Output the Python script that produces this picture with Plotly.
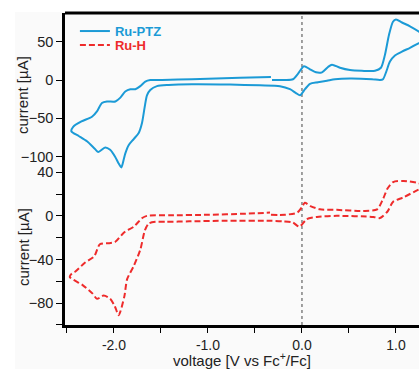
import plotly.graph_objects as go

# ---------------- data ----------------
ptz_v = [-0.319, -0.181, -0.096, -0.043, 0.021, 0.085, 0.149, 0.213, 0.277, 0.319, 0.404, 0.511,
         0.638, 0.777, 0.840, 0.883, 0.926, 0.968, 1.000, 1.064, 1.149, 1.245, 1.34,
         1.245, 1.149, 1.064, 0.989, 0.936, 0.894, 0.862, 0.830, 0.745, 0.511, 0.351, 0.266,
         0.170, 0.085, 0.032, -0.021, -0.064, -0.128, -0.234, -0.447, -0.766, -1.170, -1.418,
         -1.543, -1.614, -1.649, -1.673, -1.702, -1.737, -1.790, -1.844, -1.880, -1.897, -1.922,
         -1.950, -1.988, -2.041, -2.094, -2.166, -2.202, -2.287, -2.375, -2.453,
         -2.434, -2.346, -2.234, -2.181, -2.128, -2.074, -1.985, -1.932, -1.880, -1.826,
         -1.773, -1.720, -1.667, -1.614, -1.489, -1.170, -0.660, -0.330]
ptz_i = [0, 0, 1, 8, 18, 14, 10, 10, 17, 20, 16, 13,
         12, 12, 16, 33, 59, 76, 79, 75, 70, 63, 55,
         48, 42, 37, 32, 24, 10, 1, 0, 1, 2, 1, -1,
         -3, -5, -12, -20, -17, -12, -8, -7, -6, -5.6, -6.5,
         -8, -13, -20, -35, -56, -69, -77, -85, -96, -104, -114,
         -109, -100, -91, -88, -94, -90, -80, -73, -67,
         -61, -54, -48, -41, -30, -28, -28, -23, -15, -12,
         -12, -8, -2, 0, 0, 1, 3, 4]

h_v = [-0.33, -0.18, -0.05, 0.00, 0.03, 0.09, 0.19, 0.37, 0.65, 0.80, 0.86, 0.91, 0.97,
       1.08, 1.24, 1.33,
       1.24, 1.08, 0.97, 0.91, 0.83, 0.76, 0.37, 0.16, 0.05, 0.00, -0.03, -0.10, -0.20,
       -0.34, -0.80, -1.20, -1.45, -1.56, -1.63, -1.67, -1.72, -1.79, -1.86, -1.89, -1.95,
       -1.99, -2.04, -2.11, -2.18, -2.23, -2.34, -2.47,
       -2.45, -2.41, -2.31, -2.21, -2.15, -2.05, -1.99, -1.89, -1.79, -1.70, -1.65,
       -1.40, -1.00, -0.60, -0.34]
h_i = [1, 1, 3, 8, 12, 9, 6, 5.5, 4.5, 6, 15, 25, 31,
       32, 30, 27,
       24, 17, 13, 4, -2, -1, 0, -1, -3, -8, -10, -6, -5,
       -4.5, -4.5, -5, -5.5, -5.5, -7, -13, -31, -46, -58, -74, -91,
       -83, -76, -73, -76, -71, -63, -56,
       -53, -51, -43, -37, -26, -25, -24, -15, -10, -2, 0,
       0.5, 1, 2, 3]

x_tickvals = [-2.0, -1.0, 0.0, 1.0]
x_ticktext = ["-2.0", "-1.0", "0.0", "1.0"]
top_tickvals = [50, 0, -50, -100]
bot_tickvals = [40, 0, -40, -80]

BLUE = "#1b9ad6"
RED = "#ee2b2b"
FONT = "Liberation Sans, Arial, sans-serif"

fig = go.Figure()
fig.add_trace(go.Scatter(x=ptz_v, y=ptz_i, mode="lines", name="<b>Ru-PTZ</b>",
                         line=dict(color=BLUE, width=2, shape="spline", smoothing=0.7),
                         xaxis="x", yaxis="y2", legend="legend2", showlegend=True))
fig.add_trace(go.Scatter(x=h_v, y=h_i, mode="lines", name="<b>Ru-H</b>",
                         line=dict(color=RED, width=2, dash="6px,3px", shape="spline", smoothing=0.7),
                         xaxis="x", yaxis="y", legend="legend3", showlegend=True))

axis_common = dict(showgrid=False, zeroline=False, showline=True, linecolor="black", linewidth=2.5,
                   ticks="outside", ticklen=6, tickwidth=1.2, tickcolor="black",
                   tickfont=dict(family=FONT, size=14.5, color="#222"))
x_common = dict(axis_common, ticklen=5, tickfont=dict(family=FONT, size=14, color="#222"))

fig.update_layout(
    width=419, height=369,
    margin=dict(l=65, r=0, t=13, b=44),
    paper_bgcolor="white", plot_bgcolor="rgba(0,0,0,0)",
    xaxis=dict(range=[-2.521, 1.245], anchor="y", tickmode="array", tickvals=x_tickvals,
               ticktext=x_ticktext,
               minor=dict(ticks="outside", ticklen=5, tickwidth=1.2, tickcolor="black",
                          tick0=0, dtick=0.5, showgrid=False),
               **x_common),
    yaxis=dict(domain=[0, 0.4904], range=[-100, 40.2], anchor="x", tickmode="array",
               tickvals=bot_tickvals,
               minor=dict(ticks="outside", ticklen=6, tickwidth=1.2, tickcolor="black",
                          tick0=0, dtick=20, showgrid=False),
               **axis_common),
    yaxis2=dict(domain=[0.4808, 1], range=[-123.9, 87.4], anchor="x", tickmode="array",
                tickvals=top_tickvals, **axis_common),
    legend2=dict(x=0.028, y=0.942, xanchor="left", yanchor="middle", bgcolor="rgba(0,0,0,0)",
                 font=dict(family=FONT, size=13, color=BLUE)),
    legend3=dict(x=0.028, y=0.897, xanchor="left", yanchor="middle", bgcolor="rgba(0,0,0,0)",
                 font=dict(family=FONT, size=13, color=RED)),
    shapes=[
        dict(type="rect", xref="paper", yref="paper", x0=-50/354, x1=1.0, y0=-0.141, y1=1.0032,
             fillcolor="#fafafa", line=dict(width=0), layer="below"),
        dict(type="line", xref="x", yref="paper", x0=0, x1=0, y0=0, y1=1,
             line=dict(color="#444", width=1, dash="dot"), layer="below"),
        dict(type="line", xref="paper", yref="paper", x0=0, x1=1, y0=1, y1=1,
             line=dict(color="black", width=3)),
    ],
    annotations=[
        dict(text="current [µA]", xref="paper", yref="paper", x=-42/354, y=(325-95)/312,
             textangle=-90, showarrow=False, xanchor="center", yanchor="middle",
             font=dict(family=FONT, size=15, color="#222")),
        dict(text="current [µA]", xref="paper", yref="paper", x=-42/354, y=(325-247)/312,
             textangle=-90, showarrow=False, xanchor="center", yanchor="middle",
             font=dict(family=FONT, size=15, color="#222")),
        dict(text="voltage [V vs Fc<sup>+</sup>/Fc]", xref="paper", yref="paper", x=0.5,
             y=(325-359)/312, showarrow=False, xanchor="center", yanchor="middle",
             font=dict(family=FONT, size=15, color="#222")),
    ],
)

fig.write_html("out.html", config={"displayModeBar": False},
               post_script="document.body.style.margin='0';")
